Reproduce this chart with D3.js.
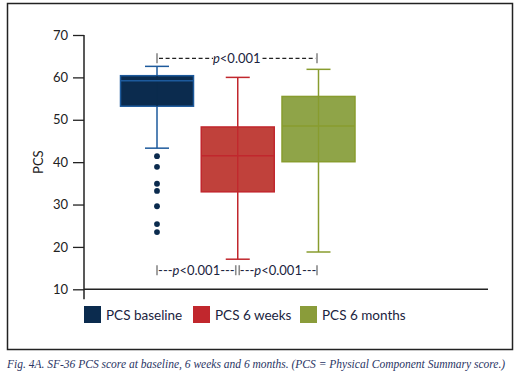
<!doctype html>
<html>
  <head>
    <script src="https://cdnjs.cloudflare.com/ajax/libs/d3/7.8.5/d3.min.js"></script>
    <style>
      body { margin: 0; background: #fff; }
      text { font-family: Lato, "Open Sans", sans-serif; }
    </style>
  </head>
  <body>
    <svg width="520" height="378"></svg>
    <script>
        // values
        var groups = ["PCS baseline", "PCS 6 weeks", "PCS 6 months"];
        var whiskerLow  = [43.3, 17.1, 18.8];
        var q1          = [53.2, 33.0, 40.1];
        var median      = [59.2, 41.5, 48.5];
        var q3          = [60.4, 48.3, 55.5];
        var whiskerHigh = [62.6, 60.0, 61.9];
        var outliers    = [[41.4, 38.9, 34.9, 33.2, 29.6, 25.4, 23.5], [], []];
        var yTicks = [10, 20, 30, 40, 50, 60, 70];
        var topBracketY = 64.5;
        var bottomBracketY = 14.5;
        var pLabel = "<0.001";

        var fills   = ["#0b2b4e", "#c0413b", "#8fa448"];
        var strokes = ["#1d5a9c", "#c1272d", "#889c2e"];
        var inner   = ["#0b2b4e", "#c1272d", "#889c2e"];
        var legendFill = ["#0b2b4e", "#c1272d", "#8a9c3a"];

        var svg = d3.select("svg");

        // frame
        svg.append("rect")
            .attr("x", 7.5).attr("y", 3.5)
            .attr("width", 505).attr("height", 346)
            .attr("fill", "none").attr("stroke", "#222").attr("stroke-width", 1.5);

        var y = d3.scaleLinear().domain([10, 70]).range([289.3, 35]);
        var x = d3.scalePoint().domain(groups).range([157, 318.5]);
        var boxW = 73, capW = 24;

        // y axis
        var yAxis = svg.append("g")
            .attr("transform", "translate(84,0)")
            .call(d3.axisLeft(y).tickValues(yTicks).tickSize(11).tickPadding(5));
        yAxis.select(".domain").remove();
        yAxis.selectAll("line").attr("stroke", "#222").attr("stroke-width", 1.3);
        yAxis.selectAll("text").attr("font-size", 13).attr("fill", "#222")
            .style("font-family", "Lato, sans-serif");
        svg.append("line")
            .attr("x1", 84).attr("x2", 84)
            .attr("y1", y(70)).attr("y2", y(10) + 10)
            .attr("stroke", "#222").attr("stroke-width", 1.5);
        // x axis baseline
        svg.append("line")
            .attr("x1", 84).attr("x2", 488)
            .attr("y1", y(10)).attr("y2", y(10))
            .attr("stroke", "#222").attr("stroke-width", 1.5);

        svg.append("text")
            .attr("transform", "translate(43," + y(40) + ") rotate(-90)")
            .attr("text-anchor", "middle")
            .attr("font-size", 13).attr("fill", "#222")
            .text("PCS");

        // boxes
        var boxes = svg.selectAll("g.box")
            .data(groups)
            .enter()
            .append("g").attr("class", "box");

        boxes.append("line")
            .attr("x1", d => x(d)).attr("x2", d => x(d))
            .attr("y1", (d, i) => y(whiskerLow[i])).attr("y2", (d, i) => y(q1[i]))
            .attr("stroke", (d, i) => strokes[i]).attr("stroke-width", 1.5);
        boxes.append("line")
            .attr("x1", d => x(d)).attr("x2", d => x(d))
            .attr("y1", (d, i) => y(q3[i])).attr("y2", (d, i) => y(whiskerHigh[i]))
            .attr("stroke", (d, i) => strokes[i]).attr("stroke-width", 1.5);
        boxes.selectAll("line.cap")
            .data((d, i) => [whiskerLow[i], whiskerHigh[i]].map(v => ({g: d, v: v, i: i})))
            .enter()
            .append("line")
                .attr("x1", d => x(d.g) - capW / 2).attr("x2", d => x(d.g) + capW / 2)
                .attr("y1", d => y(d.v)).attr("y2", d => y(d.v))
                .attr("stroke", d => strokes[d.i]).attr("stroke-width", 1.5);
        boxes.append("rect")
            .attr("x", d => x(d) - boxW / 2)
            .attr("y", (d, i) => y(q3[i]))
            .attr("width", boxW)
            .attr("height", (d, i) => y(q1[i]) - y(q3[i]))
            .attr("fill", (d, i) => fills[i])
            .attr("stroke", (d, i) => strokes[i]).attr("stroke-width", 1.5);
        boxes.append("line")
            .attr("x1", d => x(d)).attr("x2", d => x(d))
            .attr("y1", (d, i) => y(q3[i])).attr("y2", (d, i) => y(q1[i]))
            .attr("stroke", (d, i) => inner[i]).attr("stroke-width", 1.3);
        boxes.append("line")
            .attr("x1", d => x(d) - boxW / 2).attr("x2", d => x(d) + boxW / 2)
            .attr("y1", (d, i) => y(median[i])).attr("y2", (d, i) => y(median[i]))
            .attr("stroke", (d, i) => strokes[i]).attr("stroke-width", 1.5);
        boxes.selectAll("circle")
            .data((d, i) => outliers[i].map(v => ({g: d, v: v, i: i})))
            .enter()
            .append("circle")
                .attr("cx", d => x(d.g)).attr("cy", d => y(d.v))
                .attr("r", 2.9)
                .attr("fill", d => fills[d.i]);

        // significance brackets
        function tick(xp, yc) {
            svg.append("line")
                .attr("x1", xp).attr("x2", xp)
                .attr("y1", yc - 5).attr("y2", yc + 5)
                .attr("stroke", "#8a8a8a").attr("stroke-width", 1.6);
        }
        function pText(cx, yb, pre, post) {
            var t = svg.append("text")
                .attr("x", cx).attr("y", yb)
                .attr("text-anchor", "middle")
                .attr("font-size", 13).attr("fill", "#1b2440");
            t.append("tspan").text(pre);
            t.append("tspan").attr("font-style", "italic").text("p");
            t.append("tspan").text(pLabel + post);
            return t;
        }

        var x0 = x(groups[0]), x1 = x(groups[1]), x2 = x(groups[2]);
        var ty = y(topBracketY);
        tick(x0, ty); tick(x2 - 1.5, ty);
        svg.append("line")
            .attr("x1", x0 + 2).attr("x2", x0 + 56)
            .attr("y1", ty).attr("y2", ty)
            .attr("stroke", "#222").attr("stroke-width", 1.2).attr("stroke-dasharray", "4,2.6");
        svg.append("line")
            .attr("x1", x2 - 56).attr("x2", x2 - 3)
            .attr("y1", ty).attr("y2", ty)
            .attr("stroke", "#222").attr("stroke-width", 1.2).attr("stroke-dasharray", "4,2.6");
        pText((x0 + x2) / 2 - 1, ty + 4.5, "", "");

        var by = y(bottomBracketY);
        tick(x0, by); tick(x1 - 2, by); tick(x1 + 1.5, by); tick(x2 - 1.5, by);
        pText((x0 + x1) / 2 - 1, by + 4.5, "---", "---");
        pText((x1 + x2) / 2, by + 4.5, "---", "---");

        // legend
        var legendX = [84, 193, 300];
        var legend = svg.selectAll("g.legend")
            .data(groups)
            .enter()
            .append("g")
                .attr("transform", (d, i) => "translate(" + legendX[i] + ",306)");
        legend.append("rect")
            .attr("width", 17).attr("height", 17)
            .attr("fill", (d, i) => legendFill[i]);
        legend.append("text")
            .attr("x", 22).attr("y", 14)
            .attr("font-size", 13.5).attr("fill", "#1b2440")
            .text(d => d);

        // caption
        svg.append("text")
            .attr("x", 7).attr("y", 368)
            .attr("font-size", 11.5)
            .attr("font-style", "italic")
            .attr("fill", "#2a3564")
            .style("font-family", "'Liberation Serif', 'DejaVu Serif', serif")
            .text("Fig. 4A. SF-36 PCS score at baseline, 6 weeks and 6 months. (PCS = Physical Component Summary score.)");
    </script>
  </body>
</html>
